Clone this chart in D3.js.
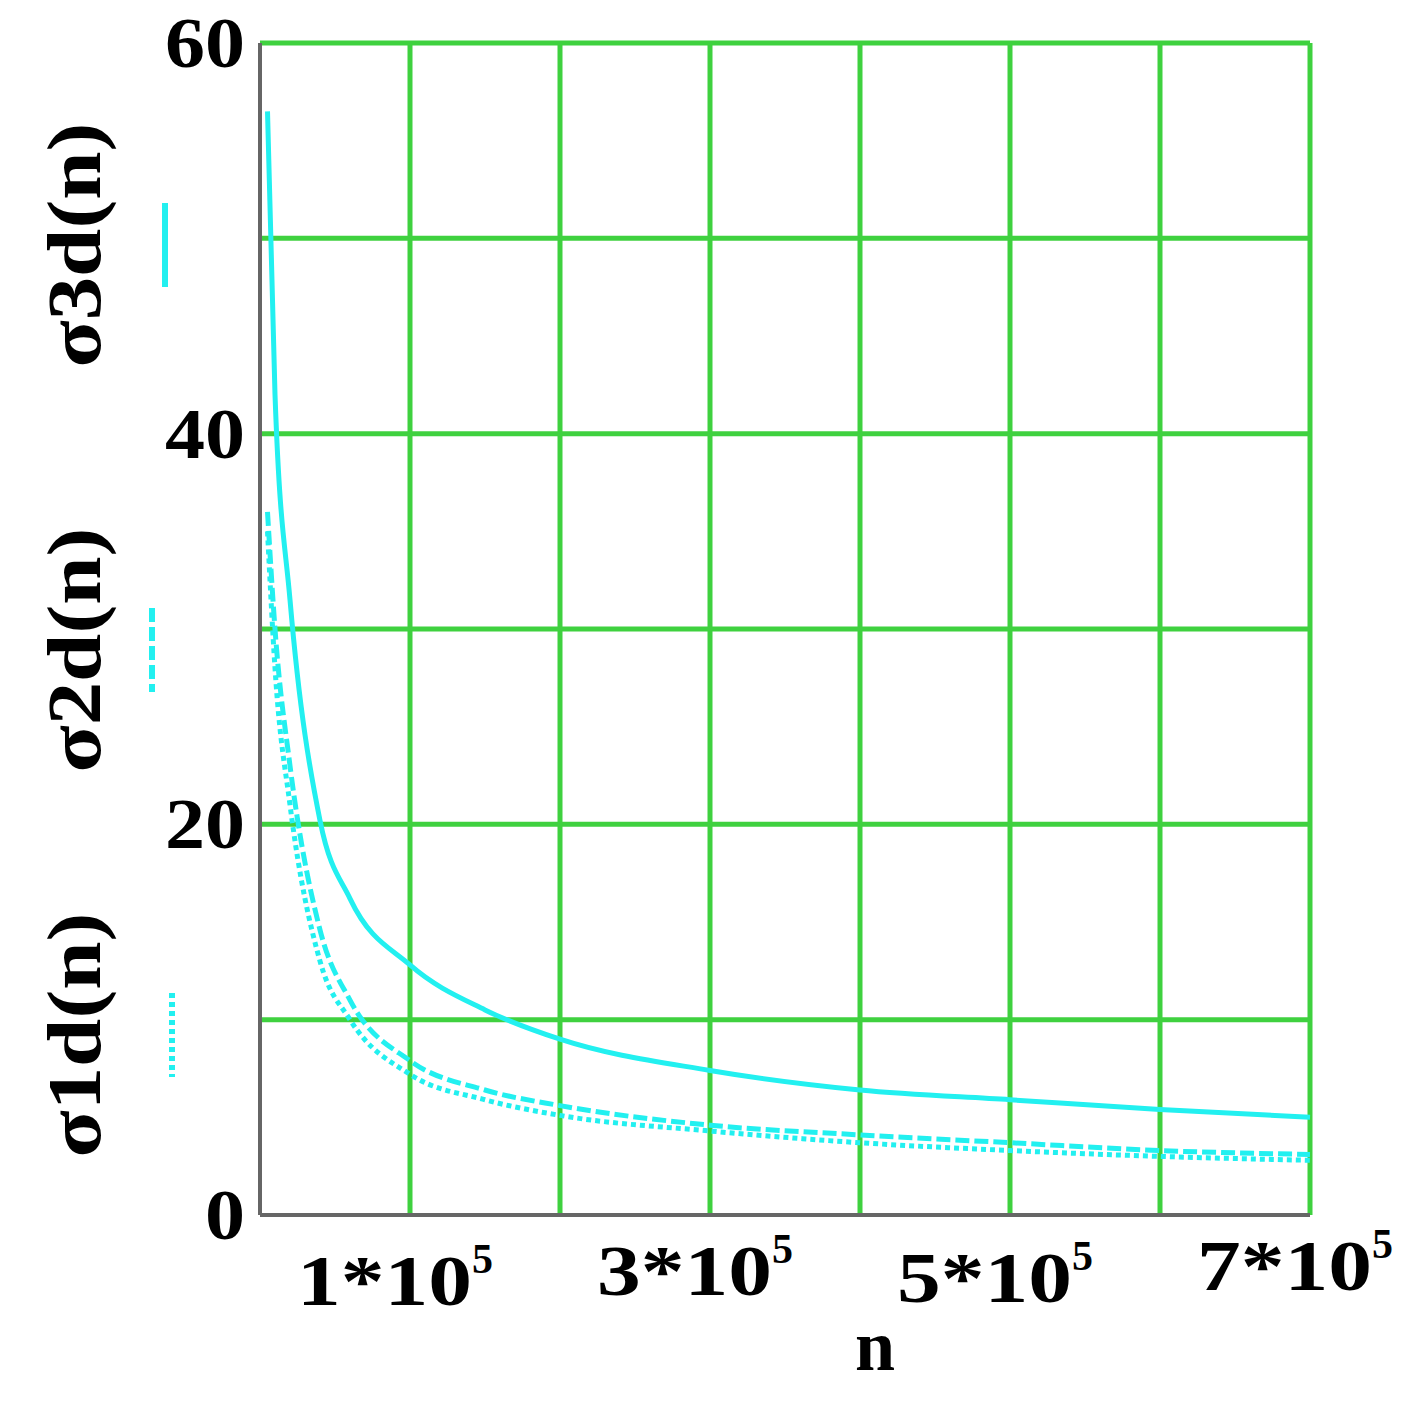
<!DOCTYPE html><html><head><meta charset="utf-8">
<script src="https://cdn.jsdelivr.net/npm/d3@7"></script>
<style>body{margin:0;background:#fff}</style></head><body>
<svg id="c" width="1423" height="1403"></svg>
<script>
const nVals=[0.05,0.1,0.2,0.4,0.6,1,1.5,2,3,4,5,6,7]; // units of 1e5
const sigma3=[56.5,42,31.5,20.2,16.2,12.8,10.5,9.0,7.4,6.4,5.9,5.4,5.0];
const sigma2=[36,30,23,14.6,11,7.9,6.4,5.6,4.6,4.1,3.7,3.3,3.1];
const sigma1=[35,28,21,13,10,7.2,5.9,5.1,4.3,3.7,3.3,3.0,2.8];
const yTicks=[0,20,40,60];
const xTickLabels=[{v:1,t:"1*10"},{v:3,t:"3*10"},{v:5,t:"5*10"},{v:7,t:"7*10"}];
const svg=d3.select("#c");
const x=d3.scaleLinear().domain([0,7]).range([260,1310]);
const y=d3.scaleLinear().domain([0,60]).range([1215,43]);
const green="#3fd13f", cyan="#22f0f0";
const font="Liberation Serif, Times New Roman, serif";
for(let v=1;v<=7;v++) svg.append("line").attr("x1",x(v)).attr("x2",x(v)).attr("y1",y(0)).attr("y2",y(60)).attr("stroke",green).attr("stroke-width",5);
for(let v=10;v<=60;v+=10) svg.append("line").attr("x1",x(0)).attr("x2",x(7)).attr("y1",y(v)).attr("y2",y(v)).attr("stroke",green).attr("stroke-width",5);
svg.append("line").attr("x1",x(0)).attr("x2",x(0)).attr("y1",y(0)).attr("y2",y(60)).attr("stroke","#666").attr("stroke-width",4);
svg.append("line").attr("x1",x(0)).attr("x2",x(7)).attr("y1",y(0)).attr("y2",y(0)).attr("stroke","#666").attr("stroke-width",4);
const line=d3.line().x((d,i)=>x(nVals[i])).y(d=>y(d)).curve(d3.curveMonotoneX);
[[sigma3,null],[sigma2,"14,5"],[sigma1,"5,4"]].forEach(([s,da])=>{
 svg.append("path").attr("d",line(s)).attr("fill","none").attr("stroke",cyan).attr("stroke-width",5).attr("stroke-dasharray",da);
});
yTicks.forEach(v=>svg.append("text").attr("x",245).attr("y",y(v)+24).attr("text-anchor","end").attr("font-family",font).attr("font-weight","bold").attr("font-size",72)
 .attr("textLength",String(v).length*40).attr("lengthAdjust","spacingAndGlyphs").text(v));
const base={1:1305,3:1295,5:1302,7:1290};
xTickLabels.forEach(d=>{
 const t=svg.append("text").attr("x",x(d.v)-15).attr("y",base[d.v]).attr("text-anchor","middle").attr("font-family",font).attr("font-weight","bold").attr("font-size",72);
 t.append("tspan").attr("textLength",175).attr("lengthAdjust","spacingAndGlyphs").text(d.t);
 t.append("tspan").attr("dy",-32).attr("font-size",42).text("5");
});
svg.append("text").attr("x",875).attr("y",1370).attr("text-anchor","middle").attr("font-family",font).attr("font-weight","bold").attr("font-size",72).text("n");
[["σ3d(n)",245,165,null],["σ2d(n)",650,152,"14,5"],["σ1d(n)",1035,172,"5,4"]].forEach(([t,cy,lx,da])=>{
 svg.append("text").attr("transform",`translate(100,${cy}) rotate(-90)`).attr("text-anchor","middle").attr("font-family",font).attr("font-weight","bold").attr("font-size",76)
  .attr("textLength",245).attr("lengthAdjust","spacingAndGlyphs").text(t);
 svg.append("line").attr("x1",lx).attr("x2",lx).attr("y1",cy-42).attr("y2",cy+42).attr("stroke",cyan).attr("stroke-width",6).attr("stroke-dasharray",da);
});
</script></body></html>
